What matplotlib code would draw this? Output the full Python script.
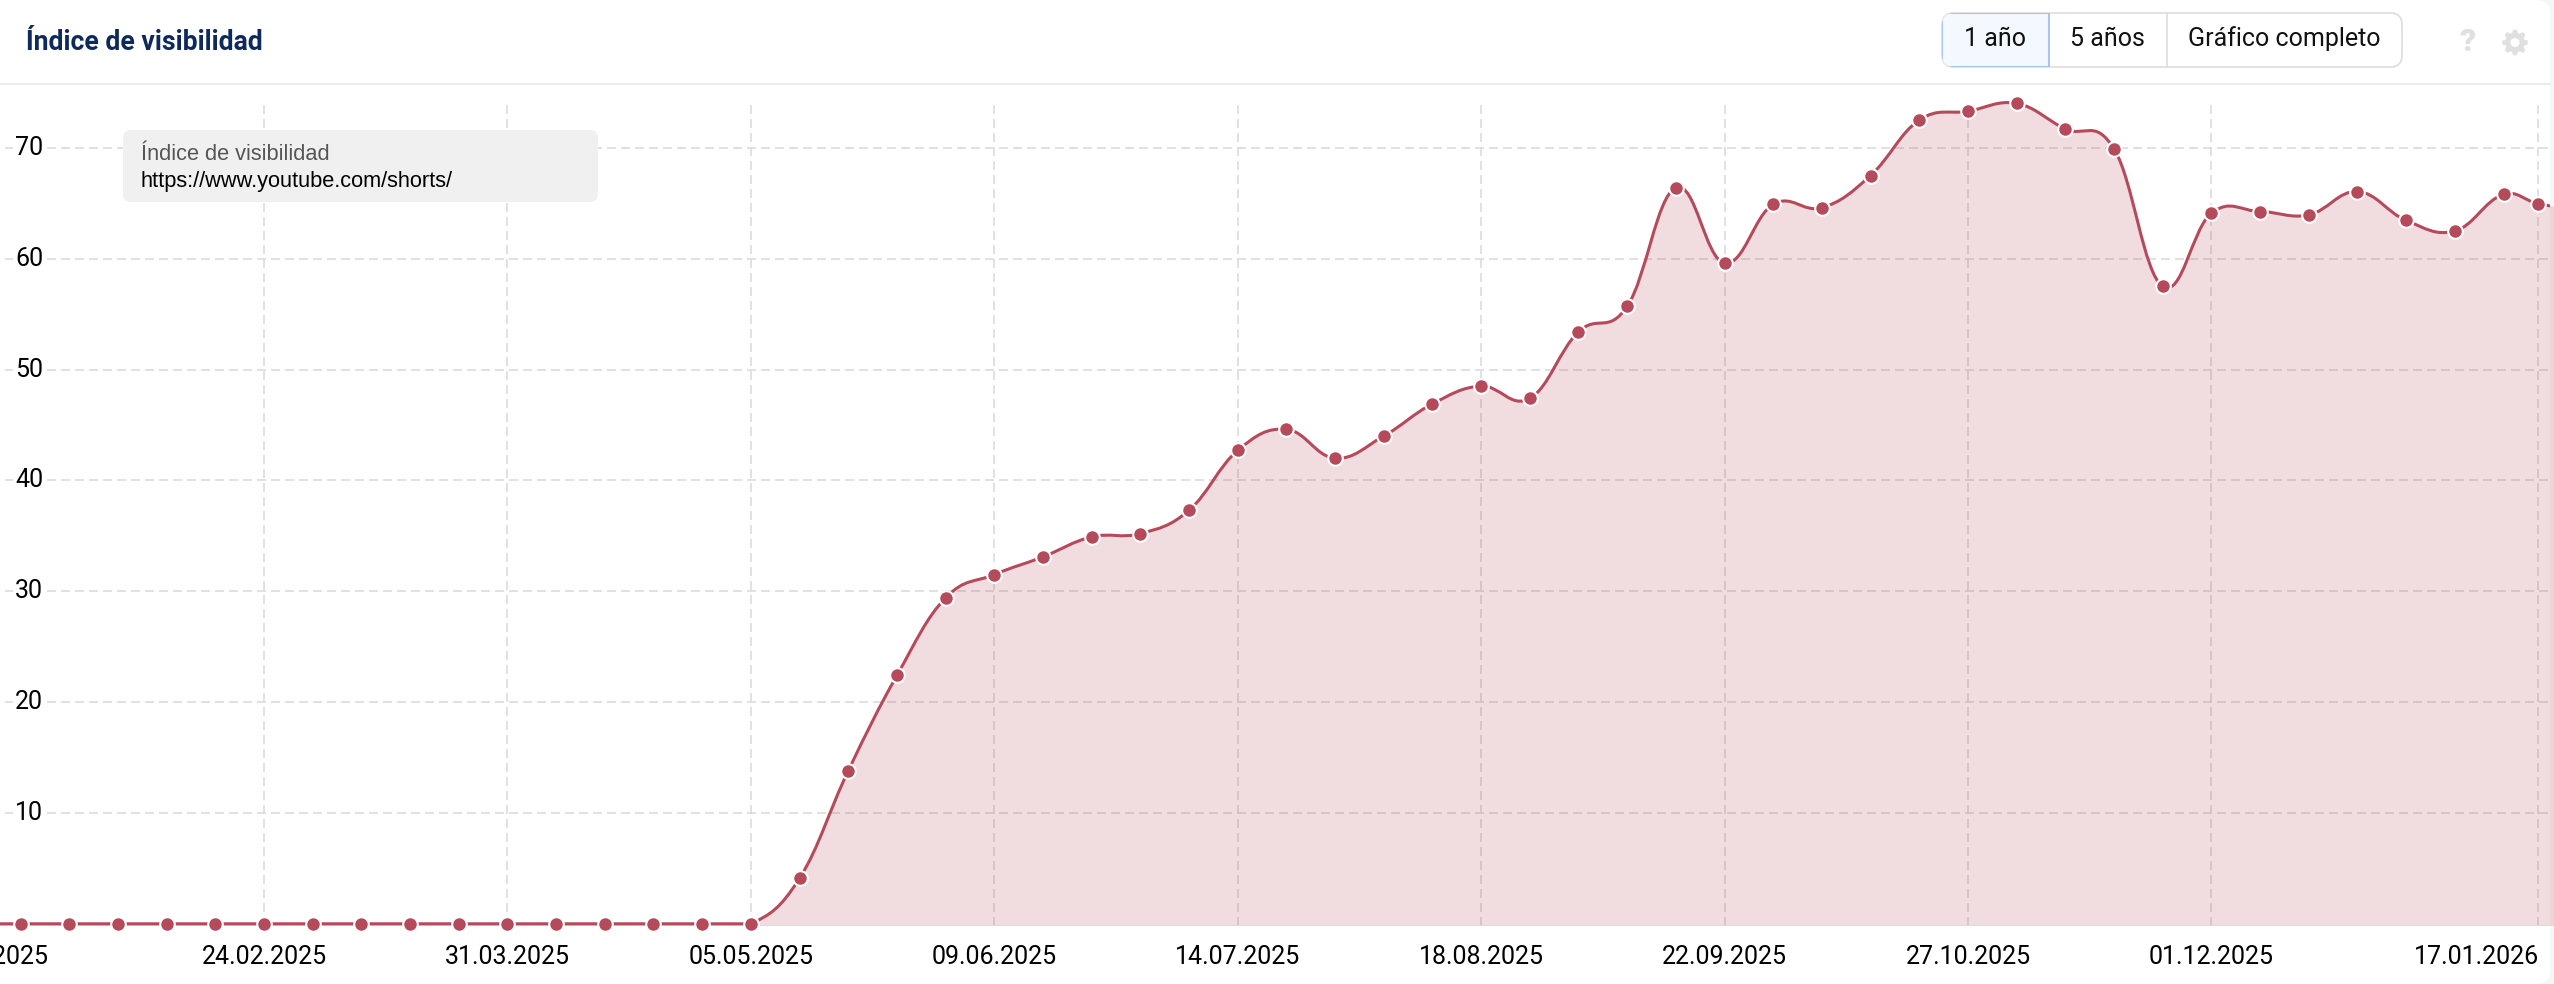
from datetime import date, timedelta

import numpy as np
import matplotlib
matplotlib.use("Agg")
import matplotlib.pyplot as plt
from matplotlib.patches import FancyBboxPatch, PathPatch, Rectangle, Polygon, Circle
from matplotlib.path import Path

plt.rcParams['font.family'] = ['Roboto', 'DejaVu Sans']

WIDTH, HEIGHT = 2554, 984
RED = "#B54A5B"

#weekly values, Mondays, first one (13.01.2025) is off canvas
first_day = date(2025, 1, 13)
zero_weeks = 17
values = [0.0] * zero_weeks + [
    4.1, 13.8, 22.4, 29.4, 31.5, 33.1, 34.9, 35.2, 37.3, 42.7,
    44.6, 42.0, 44.0, 46.9, 48.5, 47.4, 53.4, 55.7, 66.4, 59.6,
    64.9, 64.6, 67.5, 72.5, 73.3, 74.0, 71.7, 69.9, 57.5, 64.1,
    64.25, 63.95, 66.05, 63.45, 62.5, 65.8,
]
#the last two are not on the weekly grid, 24.01 is past the right edge
last_dates = [date(2026, 1, 17), date(2026, 1, 24)]
last_values = [64.95, 64.3]

y_ticks = [10, 20, 30, 40, 50, 60, 70]
grid_dates = [date(2025, 2, 24), date(2025, 3, 31), date(2025, 5, 5), date(2025, 6, 9),
              date(2025, 7, 14), date(2025, 8, 18), date(2025, 9, 22), date(2025, 10, 27),
              date(2025, 12, 1), date(2026, 1, 17)]
x_tick_dates = [date(2025, 1, 20)] + grid_dates
x_tick_labels = ["20.01.2025", "24.02.2025", "31.03.2025", "05.05.2025", "09.06.2025", "14.07.2025",
                 "18.08.2025", "22.09.2025", "27.10.2025", "01.12.2025", "17.01.2026"]


def day_number(d):
    return (d - first_day).days


def spline_path(x, y):
    """Smooth line through the points, control points like a Highcharts spline"""
    verts = [(x[0], y[0])]
    codes = [Path.MOVETO]
    n = len(x)
    right_x, right_y = x[0], y[0]
    for i in range(1, n):
        px, py = x[i], y[i]
        if i == n - 1:
            left_x, left_y = px, py
            next_rx, next_ry = px, py
        else:
            left_x = (1.5 * px + x[i - 1]) / 2.5
            left_y = (1.5 * py + y[i - 1]) / 2.5
            next_rx = (1.5 * px + x[i + 1]) / 2.5
            next_ry = (1.5 * py + y[i + 1]) / 2.5
            correction = (next_ry - left_y) * (next_rx - px) / (next_rx - left_x) + py - next_ry
            #the line never goes under zero
            left_y = max(left_y + correction, 0)
            next_ry += correction
        verts += [(right_x, right_y), (left_x, left_y), (px, py)]
        codes += [Path.CURVE4] * 3
        right_x, right_y = next_rx, next_ry
    return verts, codes


week_dates = [first_day + timedelta(days=7 * i) for i in range(len(values))]
xs = np.array([day_number(d) for d in week_dates + last_dates], dtype=float)
ys = np.array(values + last_values)

fig = plt.figure(figsize=(WIDTH / 100, HEIGHT / 100), dpi=100, facecolor="#F7F7F7")

#white card behind everything
bg = fig.add_axes([0, 0, 1, 1], facecolor="none")
bg.set_xlim(0, WIDTH)
bg.set_ylim(HEIGHT, 0)
bg.axis("off")
bg.add_patch(FancyBboxPatch((-40, 0), 2590, HEIGHT, boxstyle="round,pad=0,rounding_size=14", facecolor="white",
                            edgecolor="none"))

#chart axes, ends at the card edge
y_zero, y_70 = 923.8, 147.8
px_per_unit = (y_zero - y_70) / 70
y_base = 926
y_top = 84
card_right = 2550
ax = fig.add_axes([0, 1 - y_base / HEIGHT, card_right / WIDTH, (y_base - y_top) / HEIGHT], facecolor="none")
y_low = -(y_base - y_zero) / px_per_unit
ax.set_ylim(y_low, (y_zero - y_top) / px_per_unit)
px_per_day = 6.955
x0 = 264 - day_number(date(2025, 2, 24)) * px_per_day
ax.set_xlim(-x0 / px_per_day, (card_right - x0) / px_per_day)
for spine in ax.spines.values():
    spine.set_visible(False)
ax.set_xticks([])
ax.set_yticks([])

#grid
grid_style = dict(color="#DCDCDC", lw=1.2, dashes=(5.4, 3.0), zorder=1)
for v in y_ticks:
    ax.plot([(5 - x0) / px_per_day, (card_right - x0) / px_per_day], [v, v], **grid_style)
grid_top = (y_zero - 103) / px_per_unit
for d in grid_dates:
    ax.plot([day_number(d)] * 2, [y_low, grid_top], **grid_style)

#area and line
verts, codes = spline_path(xs, ys)
fill_verts = verts + [(xs[-1], y_low), (xs[0], y_low), (xs[0], ys[0])]
fill_codes = codes + [Path.LINETO, Path.LINETO, Path.CLOSEPOLY]
#only from the first value above zero, the flat part has no fill
fill_clip = Rectangle((day_number(date(2025, 5, 5)), y_low), 400, 100, transform=ax.transData)
area = PathPatch(Path(fill_verts, fill_codes), facecolor=RED, alpha=0.19, edgecolor="none", zorder=2)
ax.add_patch(area)
area.set_clip_path(fill_clip)
ax.axhline(y_low, color="#E2DADC", lw=2.2, zorder=2.5)
ax.add_patch(PathPatch(Path(verts, codes), facecolor="none", edgecolor=RED, lw=2.2, zorder=3))
ax.plot(xs[xs < 370], ys[xs < 370], ls="none", marker="o", ms=10.5, mfc=RED, mec="white", mew=1.5, zorder=4,
        clip_on=False)

#y labels sit on the grid with a white background
for v in y_ticks:
    ax.text((29 - x0) / px_per_day, v, str(v), ha="center", va="center", fontsize=18, color="black",
            bbox=dict(facecolor="white", edgecolor="none", pad=1.5), zorder=5)

#overlay in pixel coordinates for the page furniture
ov = fig.add_axes([0, 0, 1, 1], facecolor="none")
ov.set_xlim(0, WIDTH)
ov.set_ylim(HEIGHT, 0)
ov.axis("off")

ov.plot([0, card_right], [84, 84], color="#EBEBEB", lw=1.5)
ov.text(26, 42, "Índice de visibilidad", fontsize=19.2, fontweight="bold", color="#0E2A5C", va="center")

#x labels, first and last one are pushed by the edges
for d, label in zip(x_tick_dates, x_tick_labels):
    px = x0 + day_number(d) * px_per_day
    if label == "17.01.2026":
        px = 2477
    if label == "20.01.2025":
        px = -14
    ov.text(px, 957, label, ha="center", va="center", fontsize=18, color="black", clip_on=True)

#series box
ov.add_patch(FancyBboxPatch((129, 136), 463, 60, boxstyle="round,pad=6,rounding_size=8", facecolor="#F0F0F0",
                            edgecolor="none", zorder=6))
ov.text(141, 154, "Índice de visibilidad", fontsize=15.7, family="Liberation Sans", color="#555555",
        va="center", zorder=7)
ov.text(141, 182, "https://www.youtube.com/shorts/", fontsize=15.7, family="Liberation Sans", color="black",
        va="center", zorder=7)

#range buttons
ov.add_patch(FancyBboxPatch((1954, 25), 436, 30, boxstyle="round,pad=12,rounding_size=12", facecolor="white",
                            edgecolor="#DDDDDD", lw=1.2))
clip = FancyBboxPatch((1954, 25), 436, 30, boxstyle="round,pad=12,rounding_size=12", transform=ov.transData)
active = Rectangle((1942, 13), 107, 54, facecolor="#F4F8FF", edgecolor="#A9C4EE", lw=1.5)
ov.add_patch(active)
active.set_clip_path(clip)
ov.plot([2167, 2167], [13, 67], color="#DDDDDD", lw=1.2)
ov.text(1995, 39, "1 año", ha="center", va="center", fontsize=18, color="#111111")
ov.text(2107, 39, "5 años", ha="center", va="center", fontsize=18, color="#111111")
ov.text(2284, 39, "Gráfico completo", ha="center", va="center", fontsize=18, color="#111111")
ov.text(2468, 42, "?", ha="center", va="center", fontsize=23, fontweight="black", color="#E0E0E0")

#settings gear
gear_x, gear_y = 2515, 42.5
angles = np.deg2rad(np.arange(0, 360, 7.5))
teeth = np.cos(angles * 8) > 0
radius = np.where(teeth, 12.5, 9.5)
ov.add_patch(Polygon(np.column_stack([gear_x + radius * np.cos(angles), gear_y + radius * np.sin(angles)]),
                     closed=True, facecolor="#E0E0E0", edgecolor="#E0E0E0", lw=0.5))
ov.add_patch(Circle((gear_x, gear_y), 4.5, facecolor="white", edgecolor="none"))

fig.savefig("out.png", dpi=100, facecolor=fig.get_facecolor())
